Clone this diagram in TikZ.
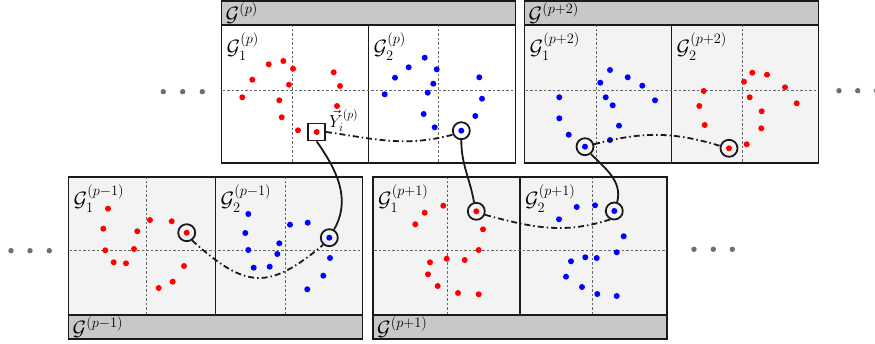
\documentclass[tikz,border=0pt]{standalone}
\usepackage{amsmath,amssymb}
\usepackage{tikz}
\usetikzlibrary{positioning}
\definecolor{Ink}{HTML}{1A1A1A}
\definecolor{HeadGray}{HTML}{C8C8C8}
\definecolor{PanelGray}{HTML}{F3F3F3}
\definecolor{DotRed}{HTML}{FF0000}
\definecolor{DotBlue}{HTML}{0000FF}
\definecolor{EllGray}{HTML}{6E6E6E}
\begin{document}
\begin{tikzpicture}[x=1pt,y=1pt,
  head/.style={draw=Ink,line width=1.5pt,fill=HeadGray,minimum width=294pt,
    minimum height=24pt,inner sep=0pt,outer sep=0pt},
  panel/.style={draw=Ink,line width=1.5pt,fill=PanelGray,minimum width=147pt,
    minimum height=138pt,inner sep=0pt,outer sep=0pt},
  axis/.style={draw=black!60,line width=0.6pt,dash pattern=on 2.5pt off 2pt},
  rdot/.style={fill=DotRed},
  bdot/.style={fill=DotBlue},
  ell/.style={fill=EllGray},
  pick/.style={circle,draw=Ink,line width=1.8pt,minimum size=17pt,inner sep=0pt},
  picksq/.style={rectangle,draw=Ink,line width=1.8pt,minimum size=17pt,inner sep=0pt},
  hop/.style={Ink,line width=1.8pt,dash pattern=on 6pt off 3pt on 1.5pt off 3pt},
  jump/.style={Ink,line width=1.8pt},
  glab/.style={font=\huge,inner sep=0pt,anchor=north west},
  hlab/.style={font=\huge,inner sep=0pt,anchor=west}
]
\useasboundingbox (0,0) rectangle (875,343);

% Block p (top left).
\node[head] (h0) at (368.5,330) {};
\node[panel,fill=white] (g01) at (295,249) {};
\node[panel,fill=white] (g02) at (442,249) {};
\draw[axis] (222.5,252.3) -- (514.5,252.3);
\draw[axis] (292,181) -- (292,317); \draw[axis] (438.7,181) -- (438.7,317);
\node[hlab,right=4pt of h0.west] (l0) {$\mathcal{G}^{(p)}$};
\node[glab,below right=8pt and 5pt of g01.north west] (l01) {$\mathcal{G}_1^{(p)}$};
\node[glab,below right=8pt and 5pt of g02.north west] (l02) {$\mathcal{G}_2^{(p)}$};
\fill[rdot] (268.7,278.7) circle (3) (283.3,282) circle (3) (293,274.3) circle (3)
  (252.3,263.3) circle (3) (289,258.3) circle (3) (242.3,245.7) circle (3)
  (279.3,242.7) circle (3) (333.7,270.7) circle (3) (340,257) circle (3)
  (337,237) circle (3) (281.7,225.7) circle (3) (298,212.7) circle (3)
  (316.7,211) circle (3);
\fill[bdot] (424.7,285.3) circle (3) (408.7,275.7) circle (3) (436.7,273.7) circle (3)
  (395,265.3) circle (3) (479.3,265.7) circle (3) (433.3,259.3) circle (3)
  (384.7,248.7) circle (3) (427.7,250.3) circle (3) (482,244.3) circle (3)
  (423.7,229) circle (3) (475.3,227) circle (3) (434.7,215.7) circle (3)
  (461.3,212.3) circle (3);
\node[picksq] (y0) at (316.7,211) {};
\node[pick] (c02) at (461.3,212.3) {};
\node[font=\LARGE,inner sep=0pt,anchor=south west] (ly) at (329,211) {$\vec{Y}_i^{(p)}$};

% Block p+2 (top right).
\node[head] (h2) at (671.5,330) {};
\node[panel] (g21) at (598,249) {};
\node[panel] (g22) at (745,249) {};
\draw[axis] (525.5,252.3) -- (817.5,252.3);
\draw[axis] (596.7,181) -- (596.7,317); \draw[axis] (742.3,181) -- (742.3,317);
\node[hlab,right=4pt of h2.west] (l2) {$\mathcal{G}^{(p+2)}$};
\node[glab,below right=8pt and 5pt of g21.north west] (l21) {$\mathcal{G}_1^{(p+2)}$};
\node[glab,below right=8pt and 5pt of g22.north west] (l22) {$\mathcal{G}_2^{(p+2)}$};
\fill[bdot] (610,273) circle (3) (600.3,260.3) circle (3) (627.7,265.7) circle (3)
  (642.3,257.3) circle (3) (559.3,245.7) circle (3) (605.7,245.7) circle (3)
  (612.7,237.7) circle (3) (655,242.7) circle (3) (559.3,224.7) circle (3)
  (619,217.3) circle (3) (568.7,208.3) circle (3) (610,203) circle (3)
  (585,196.3) circle (3);
\fill[rdot] (752.3,270.3) circle (3) (767,268.3) circle (3) (744,261.3) circle (3)
  (785,255.7) circle (3) (703.7,252) circle (3) (749.7,245.7) circle (3)
  (796.7,239.7) circle (3) (699.3,237) circle (3) (761.7,231.7) circle (3)
  (704.7,218) circle (3) (761.3,214.7) circle (3) (746.7,198.7) circle (3)
  (729,194.7) circle (3);
\node[pick] (c21) at (585,196.3) {};
\node[pick] (c22) at (729,194.7) {};

% Block p-1 (bottom left).
\node[panel] (gm1) at (142,97) {};
\node[panel] (gm2) at (289,97) {};
\node[head] (fm) at (215.5,16) {};
\draw[axis] (69.5,92.7) -- (361.5,92.7);
\draw[axis] (146,29) -- (146,165); \draw[axis] (285.7,29) -- (285.7,165);
\node[hlab,right=4pt of fm.west] (lm) {$\mathcal{G}^{(p-1)}$};
\node[glab,below right=8pt and 5pt of gm1.north west] (lm1) {$\mathcal{G}_1^{(p-1)}$};
\node[glab,below right=8pt and 5pt of gm2.north west] (lm2) {$\mathcal{G}_2^{(p-1)}$};
\fill[rdot] (108,134.3) circle (3) (103.3,114.3) circle (3) (137.3,111.7) circle (3)
  (150,123) circle (3) (171.7,121.7) circle (3) (186.7,110.3) circle (3)
  (105.3,92.7) circle (3) (134,94) circle (3) (113.7,80.7) circle (3)
  (126,79.7) circle (3) (184,77) circle (3) (172.7,61.3) circle (3)
  (158.7,55) circle (3);
\fill[bdot] (248.3,129) circle (3) (245.3,110) circle (3) (290,118.3) circle (3)
  (307.7,120.3) circle (3) (329.3,105.3) circle (3) (279.3,99.7) circle (3)
  (248.3,93) circle (3) (277.3,89) circle (3) (330,85) circle (3)
  (253.7,75.3) circle (3) (269.7,76.3) circle (3) (323.3,67.3) circle (3)
  (307.3,53.7) circle (3);
\node[pick] (cm1) at (186.7,110.3) {};
\node[pick] (cm2) at (329.3,105.3) {};

% Block p+1 (bottom middle).
\node[panel] (g11) at (446.5,97) {};
\node[panel] (g12) at (593.5,97) {};
\node[head] (f1) at (520,16) {};
\draw[axis] (374,92.7) -- (666,92.7);
\draw[axis] (447,29) -- (447,165); \draw[axis] (592.3,29) -- (592.3,165);
\node[hlab,right=4pt of f1.west] (l1) {$\mathcal{G}^{(p+1)}$};
\node[glab,below right=8pt and 5pt of g11.north west] (l11) {$\mathcal{G}_1^{(p+1)}$};
\node[glab,below right=8pt and 5pt of g12.north west] (l12) {$\mathcal{G}_2^{(p+1)}$};
\fill[rdot] (443.3,137.3) circle (3) (424.7,130.3) circle (3) (415.3,118.7) circle (3)
  (476.3,131.7) circle (3) (483,113.7) circle (3) (478.7,93) circle (3)
  (446.7,84.3) circle (3) (464.7,83) circle (3) (430,80.7) circle (3)
  (428,68.7) circle (3) (437.7,57) circle (3) (458,50) circle (3)
  (478.7,48.7) circle (3);
\fill[bdot] (576.7,136) circle (3) (595,137.7) circle (3) (614.3,132) circle (3)
  (559,123.7) circle (3) (623.7,106.7) circle (3) (616.7,90.7) circle (3)
  (585.3,85.7) circle (3) (596.7,85) circle (3) (571,81.7) circle (3)
  (566,66.3) circle (3) (582,56) circle (3) (597.3,49) circle (3)
  (616.7,47) circle (3);
\node[pick] (c11) at (476.3,131.7) {};
\node[pick] (c12) at (614.3,132) {};

% Links inside each block and jumps between blocks.
\draw[hop] (y0.east) to[out=-8,in=195] (c02.205);
\draw[hop] (c21.15) to[out=15,in=163] (c22.165);
\draw[hop] (cm1.-55) to[out=-42,in=220,looseness=1.4] (cm2.229);
\draw[hop] (c11.-22) to[out=-15,in=198] (c12.244);
\draw[jump] (y0.south) to[out=-55,in=60] (cm2.60);
\draw[jump] (c02.south) to[out=-90,in=100] (c11.104);
\draw[jump] (c21.-51) to[out=-45,in=76] (c12.72);

% Ellipses.
\fill[ell] (163.3,251.3) circle (2.7) (182.7,251.3) circle (2.7) (202.3,251.3) circle (2.7);
\fill[ell] (11,92.3) circle (2.7) (30,92.3) circle (2.7) (49.3,92.3) circle (2.7);
\fill[ell] (694,93.7) circle (2.7) (713.3,93.7) circle (2.7) (732.3,93.7) circle (2.7);
\fill[ell] (839,252.3) circle (2.7) (857.7,252.3) circle (2.7) (876.5,252.3) circle (2.7);
\end{tikzpicture}
\end{document}
